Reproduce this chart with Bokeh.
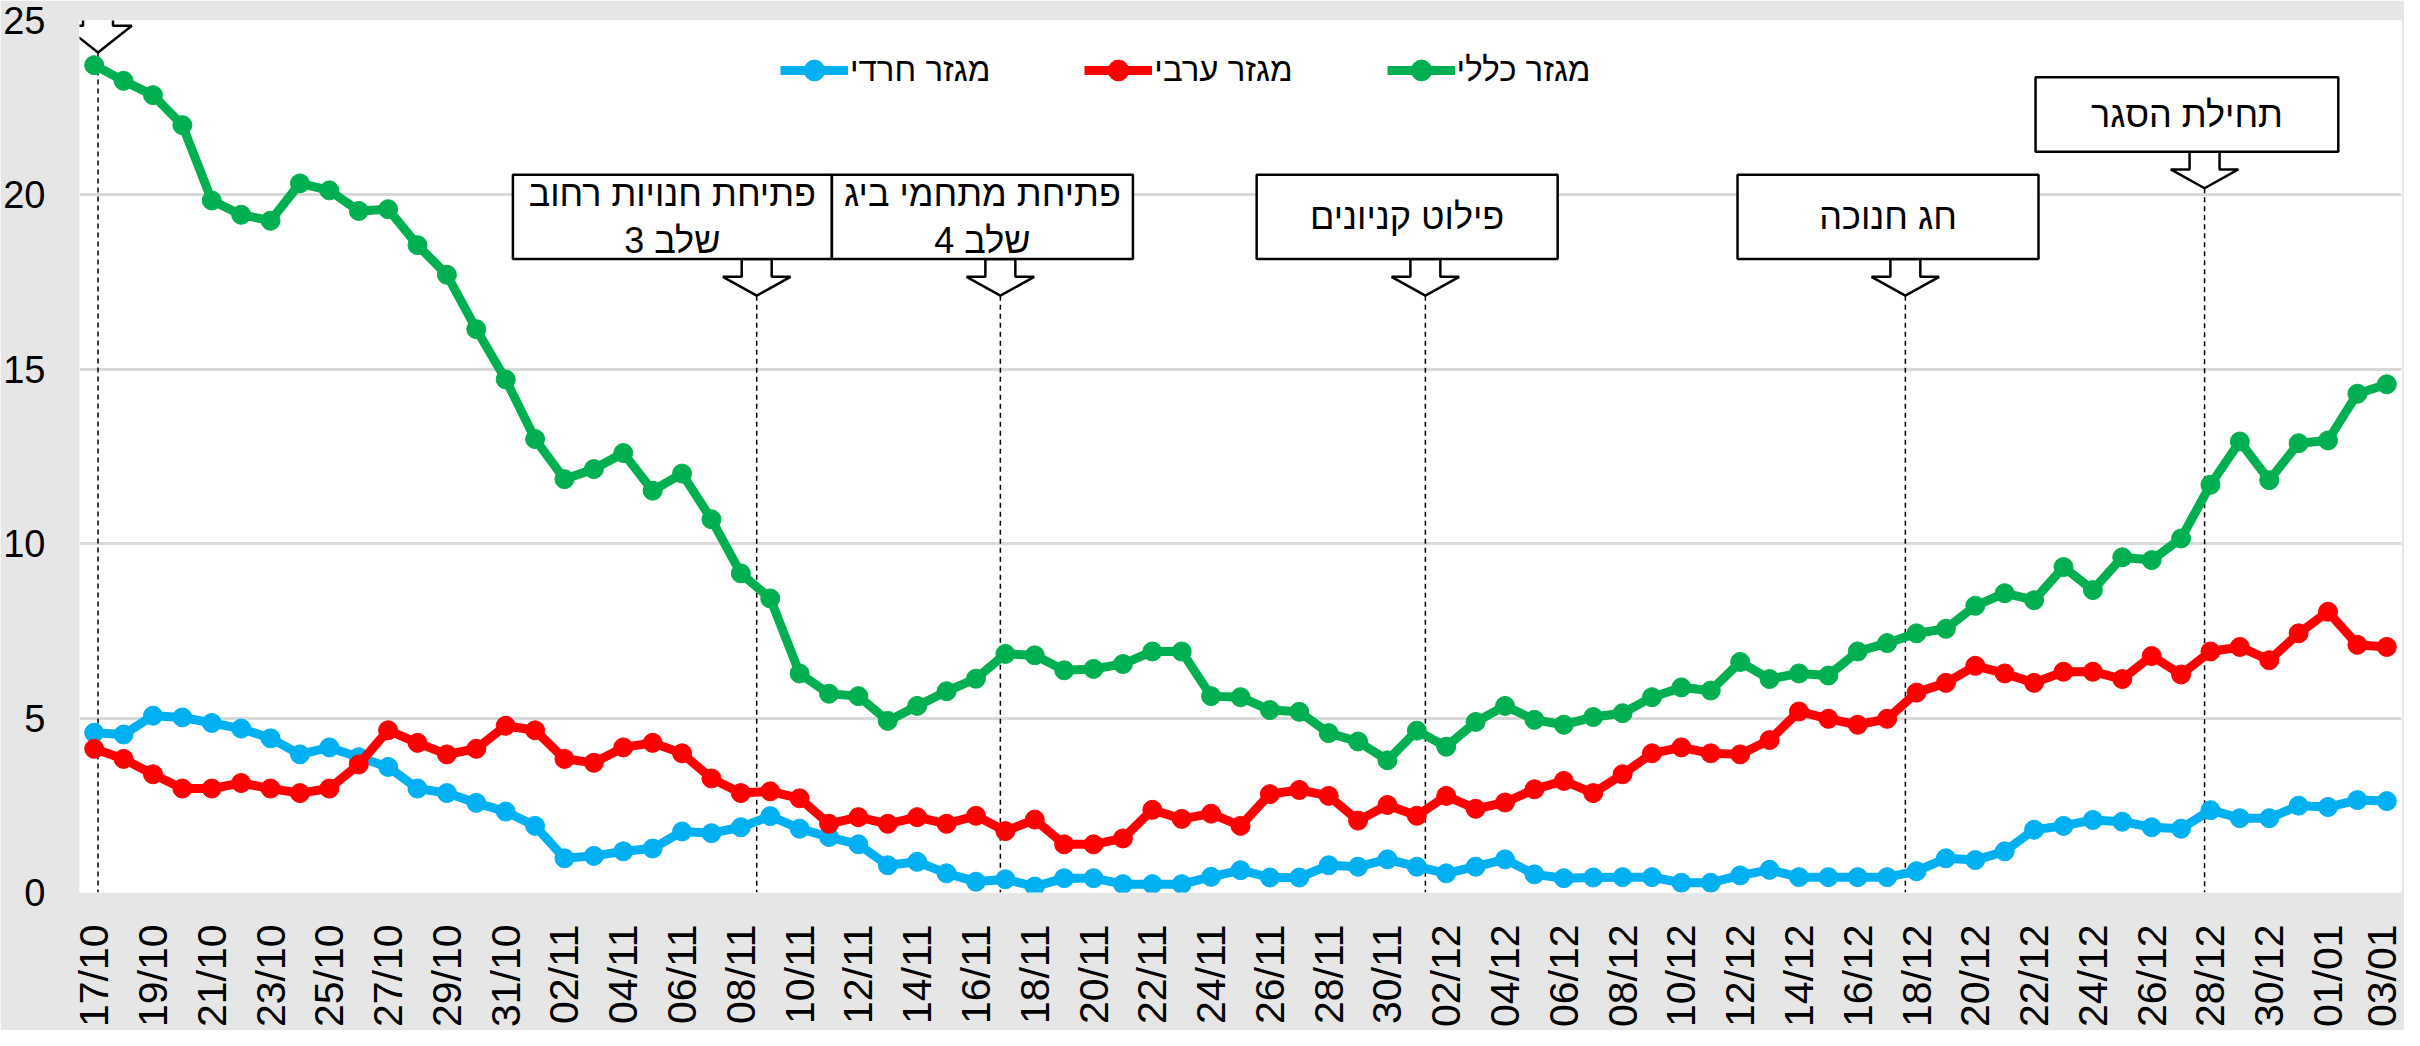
import math
from bokeh.plotting import figure
from bokeh.models import (Range1d, FixedTicker, Legend, LegendItem, BoxAnnotation,
                          PolyAnnotation, Label)
from bokeh.core.properties import value
from bokeh.embed import file_html
from bokeh.resources import INLINE

dates = ["17/10", "18/10", "19/10", "20/10", "21/10", "22/10", "23/10", "24/10", "25/10", "26/10",
         "27/10", "28/10", "29/10", "30/10", "31/10", "01/11", "02/11", "03/11", "04/11", "05/11",
         "06/11", "07/11", "08/11", "09/11", "10/11", "11/11", "12/11", "13/11", "14/11", "15/11",
         "16/11", "17/11", "18/11", "19/11", "20/11", "21/11", "22/11", "23/11", "24/11", "25/11",
         "26/11", "27/11", "28/11", "29/11", "30/11", "01/12", "02/12", "03/12", "04/12", "05/12",
         "06/12", "07/12", "08/12", "09/12", "10/12", "11/12", "12/12", "13/12", "14/12", "15/12",
         "16/12", "17/12", "18/12", "19/12", "20/12", "21/12", "22/12", "23/12", "24/12", "25/12",
         "26/12", "27/12", "28/12", "29/12", "30/12", "31/12", "01/01", "02/01", "03/01"]

general = [23.72, 23.27, 22.86, 22.0, 19.84, 19.43, 19.26, 20.33, 20.13, 19.54,
           19.59, 18.56, 17.71, 16.15, 14.71, 13.0, 11.85, 12.14, 12.6, 11.52,
           12.01, 10.7, 9.15, 8.43, 6.28, 5.7, 5.63, 4.92, 5.35, 5.77,
           6.13, 6.84, 6.8, 6.37, 6.41, 6.55, 6.91, 6.91, 5.63, 5.6,
           5.23, 5.18, 4.57, 4.33, 3.79, 4.64, 4.18, 4.89, 5.35, 4.95,
           4.81, 5.03, 5.14, 5.6, 5.88, 5.79, 6.61, 6.12, 6.28, 6.22,
           6.91, 7.15, 7.43, 7.56, 8.22, 8.58, 8.38, 9.33, 8.67, 9.61,
           9.53, 10.15, 11.69, 12.93, 11.82, 12.88, 12.96, 14.3, 14.57]

arab = [4.12, 3.83, 3.39, 2.98, 2.98, 3.14, 2.98, 2.85, 2.98, 3.67,
        4.65, 4.29, 3.96, 4.12, 4.78, 4.65, 3.83, 3.72, 4.16, 4.29,
        3.99, 3.27, 2.85, 2.9, 2.7, 1.97, 2.16, 1.97, 2.16, 1.97,
        2.2, 1.76, 2.09, 1.38, 1.38, 1.55, 2.37, 2.11, 2.26, 1.91,
        2.82, 2.94, 2.77, 2.06, 2.51, 2.2, 2.77, 2.4, 2.58, 2.96,
        3.2, 2.85, 3.39, 3.99, 4.16, 3.99, 3.96, 4.37, 5.19, 4.98,
        4.81, 4.98, 5.73, 6.01, 6.5, 6.28, 6.01, 6.33, 6.33, 6.12,
        6.78, 6.25, 6.91, 7.04, 6.66, 7.43, 8.05, 7.1, 7.04]

haredi = [4.58, 4.53, 5.07, 5.02, 4.86, 4.7, 4.42, 3.96, 4.16, 3.88,
          3.6, 2.98, 2.85, 2.57, 2.32, 1.91, 0.98, 1.05, 1.18, 1.26,
          1.75, 1.7, 1.87, 2.19, 1.83, 1.59, 1.38, 0.78, 0.88, 0.55,
          0.31, 0.38, 0.17, 0.41, 0.41, 0.24, 0.24, 0.24, 0.45, 0.64,
          0.43, 0.43, 0.78, 0.74, 0.95, 0.74, 0.55, 0.74, 0.95, 0.52,
          0.41, 0.43, 0.44, 0.44, 0.28, 0.28, 0.49, 0.65, 0.44, 0.44,
          0.44, 0.44, 0.61, 0.98, 0.93, 1.18, 1.8, 1.91, 2.08, 2.03,
          1.87, 1.83, 2.36, 2.13, 2.13, 2.49, 2.45, 2.65, 2.62]

series_names = ["מגזר חרדי", "מגזר ערבי", "מגזר כללי"]
series_colors = ["#00B0F0", "#FF0000", "#00B050"]

y_ticks = [0, 5, 10, 15, 20, 25]

# events (annotation callouts)
event_text = ["יציאה מהסגר\nשלב 1", "פתיחת חנויות רחוב\nשלב 3", "פתיחת מתחמי ביג\nשלב 4",
              "פילוט קניונים", "חג חנוכה", "תחילת הסגר"]
event_x = [0.13, 22.54, 30.83, 45.29, 61.62, 71.8]
box_cx = [-0.1, 19.67, 30.22, 44.67, 61.03, 71.2]
box_w = [10.24, 10.85, 10.24, 10.24, 10.24, 10.3]
box_top = [27.7, 20.58, 20.58, 20.58, 20.58, 23.37]
box_bottom = [25.53, 18.16, 18.16, 18.16, 18.16, 21.24]
shaft_len = [0.68, 0.51, 0.51, 0.51, 0.51, 0.51]
head_len = [0.77, 0.54, 0.54, 0.54, 0.54, 0.54]

FONT_NARROW = "'Liberation Sans Narrow', 'Liberation Sans', sans-serif"
FONT_REG = "'Liberation Sans', Arial, sans-serif"
BG = "#E7E6E6"

x = list(range(len(dates)))

p = figure(width=2404, height=1030, output_backend="svg", toolbar_location=None,
           x_range=Range1d(-0.5, len(dates) - 0.5), y_range=Range1d(y_ticks[0], y_ticks[-1]),
           min_border_left=72, min_border_right=3, min_border_top=20, min_border_bottom=132)
p.background_fill_color = "white"
p.border_fill_color = BG
p.outline_line_color = None

p.xgrid.visible = False
p.ygrid.ticker = FixedTicker(ticks=y_ticks)
p.ygrid.grid_line_color = "#D9D9D9"
p.ygrid.grid_line_width = 3

p.yaxis.ticker = FixedTicker(ticks=y_ticks)
p.yaxis.axis_line_color = None
p.yaxis.major_tick_line_color = None
p.yaxis.minor_tick_line_color = None
p.yaxis.major_tick_out = 0
p.yaxis.major_label_standoff = 34
p.yaxis.major_label_text_font = FONT_NARROW
p.yaxis.major_label_text_font_size = "38px"
p.yaxis.major_label_text_color = "black"

p.xaxis.ticker = FixedTicker(ticks=x[::2])
p.xaxis.major_label_overrides = {i: dates[i] for i in x[::2]}
p.xaxis.major_label_orientation = math.pi / 2
p.xaxis.axis_line_color = None
p.xaxis.major_tick_line_color = None
p.xaxis.minor_tick_line_color = None
p.xaxis.major_tick_out = 0
p.xaxis.major_label_standoff = 32
p.xaxis.major_label_text_font = FONT_REG
p.xaxis.major_label_text_font_size = "41px"
p.xaxis.major_label_text_color = "black"

# dashed event lines + arrows + boxes
for i in range(len(event_x)):
    ex = event_x[i]
    top = box_bottom[i]
    hs = top - shaft_len[i]
    tip = hs - head_len[i]
    sw, hw = 0.51, 1.15
    p.segment(x0=[ex], y0=[tip], x1=[ex], y1=[0], line_color="black", line_width=1.5,
              line_dash="5 4")
    p.add_layout(PolyAnnotation(xs=[ex - sw, ex + sw, ex + sw, ex + hw, ex, ex - hw, ex - sw],
                                ys=[top, top, hs, hs, tip, hs, hs],
                                fill_color="white", fill_alpha=1, line_color="black",
                                line_alpha=1, line_width=2.5, level="overlay"))
    p.add_layout(BoxAnnotation(left=box_cx[i] - box_w[i] / 2, right=box_cx[i] + box_w[i] / 2,
                               top=box_top[i], bottom=box_bottom[i],
                               fill_color="white", fill_alpha=1, line_color="black",
                               line_alpha=1, line_width=2.5, level="overlay"))
    p.add_layout(Label(x=box_cx[i], y=(box_top[i] + box_bottom[i]) / 2, text=event_text[i],
                       text_align="center", text_baseline="middle", text_font=FONT_NARROW,
                       text_font_size="36px", text_color="black", text_line_height=1.15,
                       level="overlay"))

items = []
for ys, color, name in zip([haredi, arab, general], series_colors, series_names):
    rl = p.line(x, ys, line_width=9, line_color=color, line_join="round")
    rs = p.scatter(x, ys, size=19, fill_color=color, line_color=color)
    items.append(LegendItem(label=name, renderers=[rl, rs]))

legend = Legend(items=items, orientation="horizontal", location=(701, 796),
                label_text_font=FONT_NARROW, label_text_font_size="33px",
                label_text_color="black", glyph_width=68, glyph_height=52,
                label_standoff=2, spacing=94, padding=0, margin=0,
                background_fill_alpha=0, border_line_color=None)
p.add_layout(legend)

open("out.html", "w").write(file_html(p, INLINE))
